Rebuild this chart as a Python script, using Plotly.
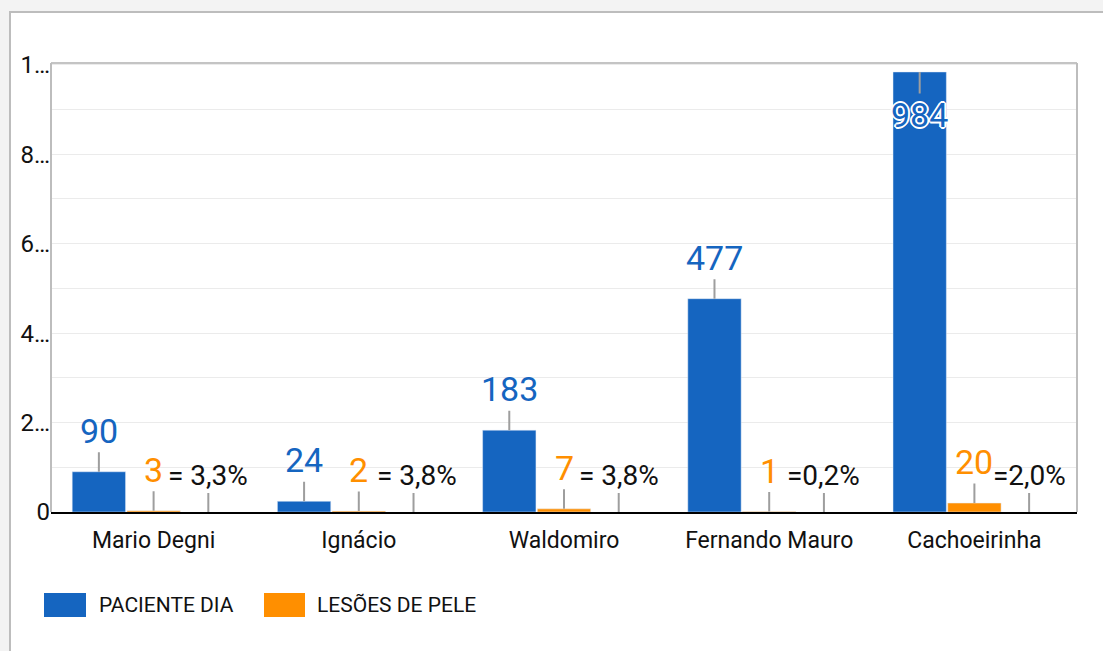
import plotly.graph_objects as go

# ---- data ----
categories = ["Mario Degni", "Ignácio", "Waldomiro", "Fernando Mauro", "Cachoeirinha"]
paciente_dia = [90, 24, 183, 477, 984]
lesoes_pele = [3, 2, 7, 1, 20]
percent_labels = ["= 3,3%", " = 3,8%", "= 3,8%", "=0,2%", "=2,0%"]
y_tick_values = [0, 200, 400, 600, 800, 1000]
y_tick_labels = ["0", "2…", "4…", "6…", "8…", "1…"]
series_names = ["PACIENTE DIA", "LESÕES DE PELE"]

# ---- style ----
BLUE = "#1565c0"
ORANGE = "#ff8f00"
FONT = "Roboto"
W, H = 1103, 651
ML, MR, MT, MB = 51, 26, 63, 139
PW, PH = W - ML - MR, H - MT - MB
YMAX = 1004
SLOT = 0.8 / 3
BARW = 0.26


def px_x(px):
    return (px - ML) / PW


def px_y(py):
    return (H - MB - py) / PH


xs = list(range(len(categories)))

fig = go.Figure()
fig.add_trace(go.Bar(x=xs, y=paciente_dia, name=series_names[0], marker_color=BLUE,
                     width=BARW, offset=-SLOT - BARW / 2, showlegend=False))
fig.add_trace(go.Bar(x=xs, y=lesoes_pele, name=series_names[1], marker_color=ORANGE,
                     width=BARW, offset=-BARW / 2, showlegend=False))

annotations = []
stem = dict(showarrow=True, arrowhead=0, arrowcolor="#9e9e9e", arrowwidth=2,
            axref="pixel", ayref="pixel", standoff=0)
outline = ("2px 0 0 #fff, -2px 0 0 #fff, 0 2px 0 #fff, 0 -2px 0 #fff, "
           "1px 1px 0 #fff, -1px -1px 0 #fff, 1px -1px 0 #fff, -1px 1px 0 #fff")
for i, v in enumerate(paciente_dia):
    inside = v > 0.9 * YMAX
    annotations.append(dict(x=i - SLOT, y=v, text=str(v), ax=0, ay=43 if inside else -41,
                            font=dict(family=FONT, size=34, color=BLUE,
                                      shadow=outline if inside else "none"), **stem))
for i, v in enumerate(lesoes_pele):
    annotations.append(dict(x=i, y=v, text=str(v), ax=0, ay=-41,
                            font=dict(family=FONT, size=34, color=ORANGE), **stem))
for i, t in enumerate(percent_labels):
    annotations.append(dict(x=i + SLOT, y=0, text=t.replace(" ", "&nbsp;"), ax=0, ay=-37,
                            font=dict(family=FONT, size=28, color="#111111"), **stem))

# legend (custom, large swatches)
legend_items = [(series_names[0], BLUE, 44, 86, 97), (series_names[1], ORANGE, 264, 305, 315)]
shapes = []
for name, col, x0, x1, tx in legend_items:
    shapes.append(dict(type="rect", xref="paper", yref="paper", x0=px_x(x0), x1=px_x(x1),
                       y0=px_y(617), y1=px_y(593), fillcolor=col, line=dict(width=0), layer="above"))
    annotations.append(dict(xref="paper", yref="paper", x=px_x(tx), y=px_y(605), text=name,
                            showarrow=False, xanchor="left", yanchor="middle",
                            font=dict(family=FONT, size=21, color="#111111")))

# outer panel frame
shapes += [
    dict(type="rect", xref="paper", yref="paper", x0=px_x(0), x1=px_x(10), y0=px_y(H), y1=px_y(0),
         fillcolor="#f3f3f3", line=dict(width=0), layer="below"),
    dict(type="rect", xref="paper", yref="paper", x0=px_x(0), x1=px_x(W), y0=px_y(12), y1=px_y(0),
         fillcolor="#f3f3f3", line=dict(width=0), layer="below"),
    dict(type="line", xref="paper", yref="paper", x0=px_x(10), x1=px_x(10), y0=px_y(H), y1=px_y(11),
         line=dict(color="#bdbdbd", width=2)),
    dict(type="line", xref="paper", yref="paper", x0=px_x(10), x1=px_x(W), y0=px_y(12), y1=px_y(12),
         line=dict(color="#bdbdbd", width=2)),
    # plot border
    dict(type="line", xref="paper", yref="paper", x0=0, x1=1, y0=1, y1=1,
         line=dict(color="#c4c4c4", width=2)),
    dict(type="line", xref="paper", yref="paper", x0=1, x1=1, y0=0, y1=1,
         line=dict(color="#bdbdbd", width=2)),
    dict(type="line", xref="paper", yref="paper", x0=0, x1=0, y0=0, y1=1,
         line=dict(color="#bdbdbd", width=2)),
]

fig.update_layout(
    width=W, height=H,
    margin=dict(l=ML, r=MR, t=MT, b=MB, pad=0),
    paper_bgcolor="white", plot_bgcolor="white",
    barmode="overlay",
    font=dict(family=FONT, color="#222222"),
    annotations=annotations,
    shapes=shapes,
    showlegend=False,
    xaxis=dict(range=[-0.5, len(categories) - 0.5], tickvals=xs, ticktext=categories,
               showgrid=False, zeroline=False, showline=True, linecolor="#000000", linewidth=2,
               ticks="", ticklabelstandoff=6,
               tickfont=dict(family=FONT, size=23, color="#111111"), fixedrange=True),
    yaxis=dict(range=[0, YMAX], tickvals=y_tick_values, ticktext=y_tick_labels,
               showgrid=True, gridcolor="#ebebeb", gridwidth=1, zeroline=False, showline=False,
               ticks="", tickfont=dict(family=FONT, size=24, color="#111111"),
               minor=dict(dtick=100, tick0=0, showgrid=True, gridcolor="#ebebeb", gridwidth=1),
               fixedrange=True),
)

fig.write_html("out.html", config={"displayModeBar": False},
               post_script="document.body.style.margin='0';document.body.style.padding='0';document.body.style.overflow='hidden';")
